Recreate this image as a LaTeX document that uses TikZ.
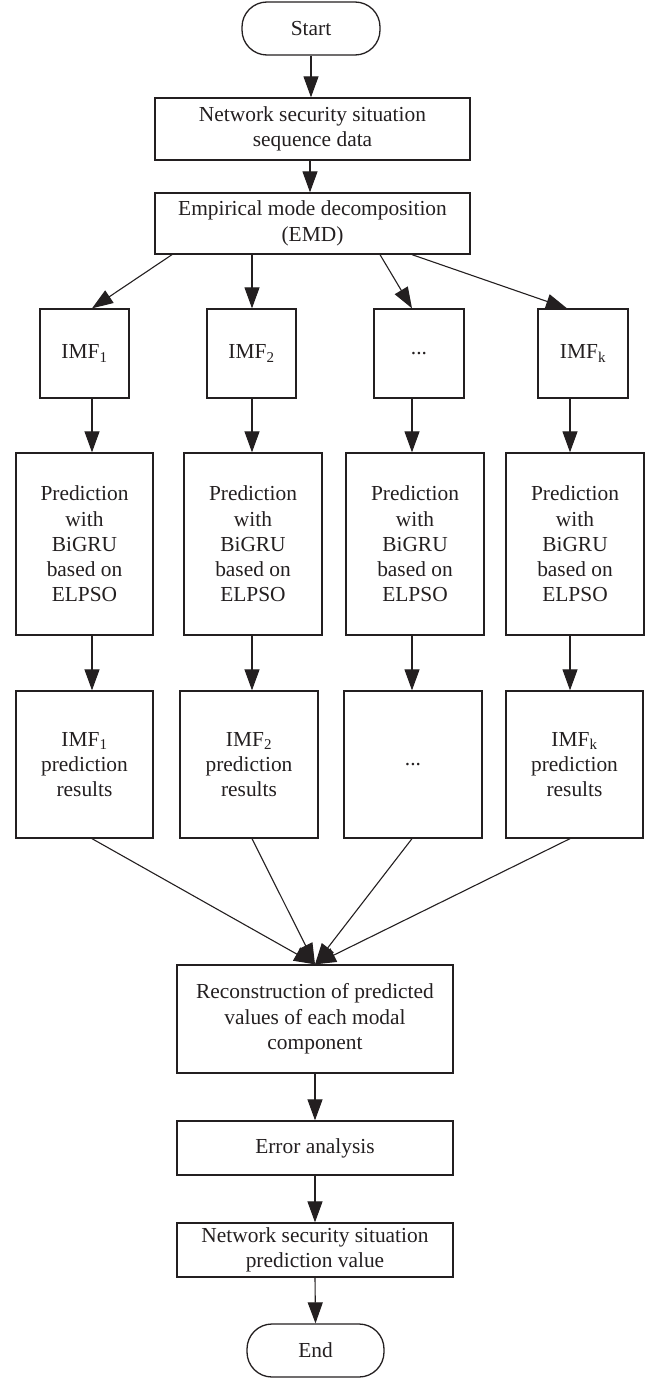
\documentclass[tikz,border=0pt]{standalone}
\usepackage{fontspec}
\setmainfont{Liberation Serif}
\usetikzlibrary{arrows.meta}
\definecolor{ink}{HTML}{231F20}
\begin{document}
\begin{tikzpicture}[x=1pt,y=-1pt,
  every node/.style={font=\fontsize{21.4}{25.3}\selectfont, text=ink},
  box/.style={draw=ink, line width=1.3pt, align=center, inner sep=0pt},
  term/.style={box, rounded corners=25pt},
  flow/.style={draw=ink, line width=1.1pt, -{Triangle[length=21pt,width=15pt]}}
]
\useasboundingbox (0,0) rectangle (655,1378);

% column positions of the connectors
\coordinate (c1) at (92,0);
\coordinate (c2) at (252,0);
\coordinate (c3) at (412,0);
\coordinate (c4) at (570,0);
\coordinate (cm) at (310,0);

% top of the chart
\node[term, minimum width=138pt, minimum height=53pt] (start) at (311,28.5) {Start};
\node[box, minimum width=315pt, minimum height=62pt] (seq) at (312.5,129)
  {Network security situation\\sequence data};
\node[box, minimum width=315pt, minimum height=61pt] (emd) at (312.5,223.5)
  {Empirical mode decomposition\\(EMD)};

% intrinsic mode functions
\node[box, minimum width=89pt, minimum height=89pt] (imf1) at (84.5,353.5) {IMF\textsubscript{1}};
\node[box, minimum width=89pt, minimum height=89pt] (imf2) at (251.5,353.5) {IMF\textsubscript{2}};
\node[box, minimum width=90pt, minimum height=89pt] (imf3) at (419,353.5) {...};
\node[box, minimum width=90pt, minimum height=89pt] (imf4) at (583,353.5) {IMF\textsubscript{k}};

% BiGRU predictors
\node[box, minimum width=137pt, minimum height=182pt] (p1) at (84.5,544)
  {Prediction\\with\\BiGRU\\based on\\ELPSO};
\node[box, minimum width=138pt, minimum height=182pt] (p2) at (253,544)
  {Prediction\\with\\BiGRU\\based on\\ELPSO};
\node[box, minimum width=138pt, minimum height=182pt] (p3) at (415,544)
  {Prediction\\with\\BiGRU\\based on\\ELPSO};
\node[box, minimum width=138pt, minimum height=182pt] (p4) at (575,544)
  {Prediction\\with\\BiGRU\\based on\\ELPSO};

% per-component results
\node[box, minimum width=137pt, minimum height=147pt] (r1) at (84.5,764.5)
  {IMF\textsubscript{1}\\prediction\\results};
\node[box, minimum width=138pt, minimum height=147pt] (r2) at (249,764.5)
  {IMF\textsubscript{2}\\prediction\\results};
\node[box, minimum width=138pt, minimum height=147pt] (r3) at (413,764.5) {...};
\node[box, minimum width=137pt, minimum height=147pt] (r4) at (574.5,764.5)
  {IMF\textsubscript{k}\\prediction\\results};

% bottom of the chart
\node[box, minimum width=276pt, minimum height=108pt] (recon) at (315,1019)
  {Reconstruction of predicted\\values of each modal\\component};
\node[box, minimum width=276pt, minimum height=54pt] (err) at (315,1148) {Error analysis};
\node[box, minimum width=276pt, minimum height=54pt] (val) at (315,1250)
  {Network security situation\\prediction value};
\node[term, minimum width=137pt, minimum height=53pt] (end) at (315.5,1350.5) {End};

% connectors
\draw[flow] (start.south) -- (start.south |- seq.north);
\draw[flow] (seq.south -| cm) -- (emd.north -| cm);

\draw[flow] ([xshift=-140.5pt]emd.south) -- (imf1.north -| c1);
\draw[flow] (emd.south -| c2) -- (imf2.north -| c2);
\draw[flow] ([xshift=67.5pt]emd.south) -- (imf3.north -| c3);
\draw[flow] ([xshift=99.5pt]emd.south) -- ([xshift=-16pt]imf4.north);

\foreach \i/\c in {1/c1,2/c2,3/c3,4/c4}{
  \draw[flow] (imf\i.south -| \c) -- (p\i.north -| \c);
  \draw[flow] (p\i.south -| \c) -- (r\i.north -| \c);
  \draw[flow] (r\i.south -| \c) -- (recon.north);
}

\draw[flow] (recon.south) -- (err.north);
\draw[flow] (err.south) -- (val.north);
\draw[flow] (val.south) -- (end.north);
\end{tikzpicture}
\end{document}
